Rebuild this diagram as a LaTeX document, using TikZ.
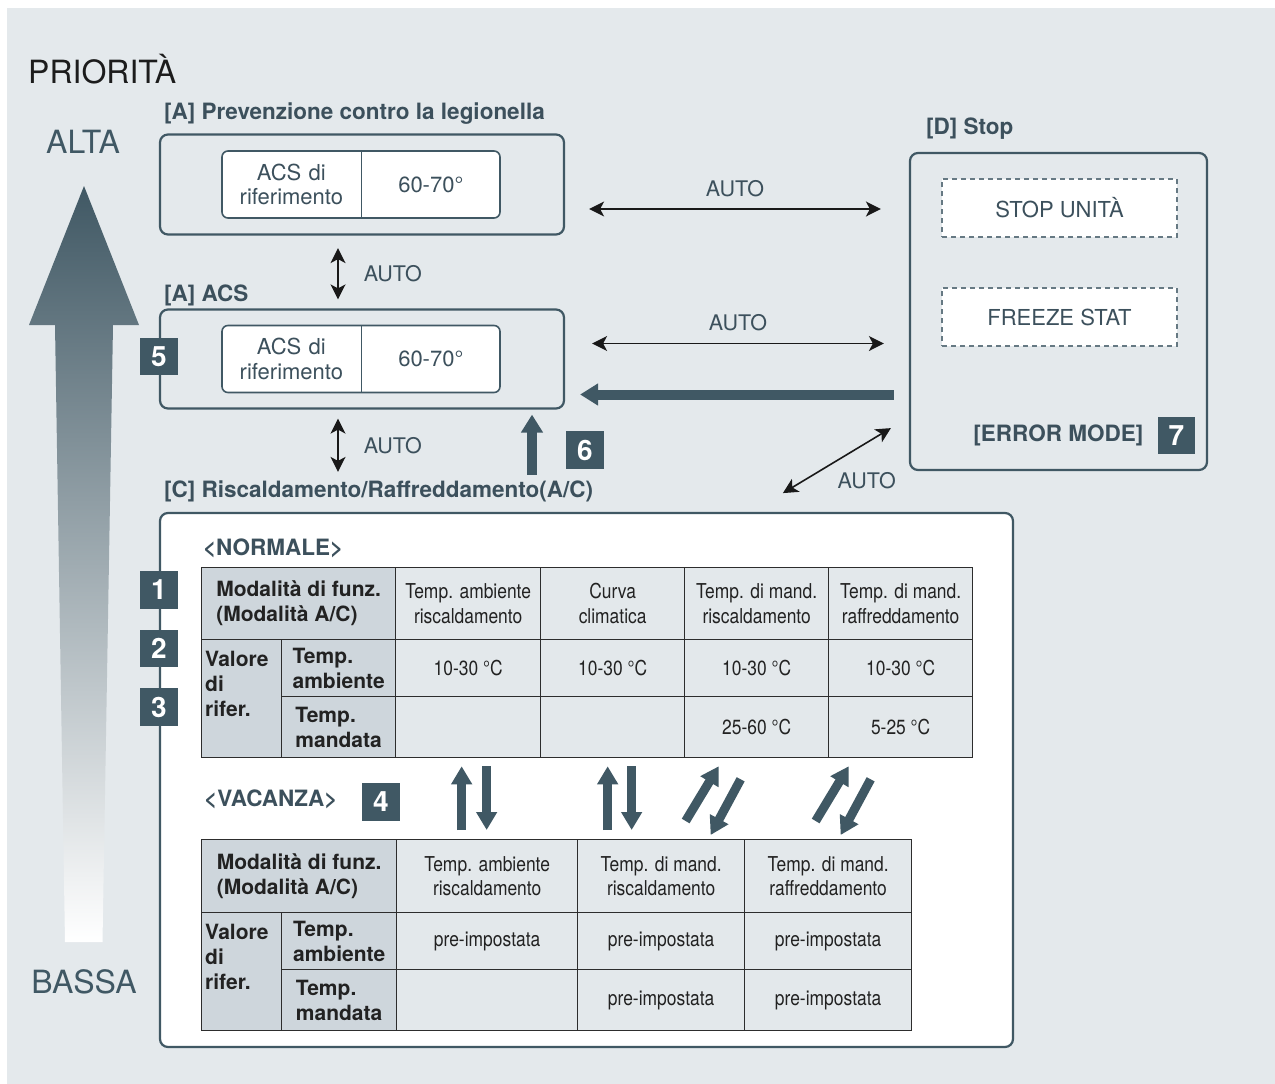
\documentclass[tikz,border=0pt]{standalone}
\usepackage{fontspec}
\setmainfont{TeX Gyre Heros}
\newfontfamily\condfont[FakeStretch=0.85]{TeX Gyre Heros}
\usepackage{tikz}
\usetikzlibrary{arrows.meta, positioning, calc}
\definecolor{bggray}{RGB}{228, 233, 236}
\definecolor{slate}{RGB}{64, 88, 100}
\definecolor{slatetext}{RGB}{60, 80, 92}
\definecolor{cellgray}{RGB}{206, 214, 220}
\definecolor{celllight}{RGB}{227, 232, 235}
\definecolor{gridline}{RGB}{45, 45, 45}
\definecolor{darktext}{RGB}{34, 34, 34}
\definecolor{titleblack}{RGB}{28, 28, 28}
\definecolor{scalemid}{RGB}{128, 146, 156}
\tikzset{
  groupbox/.style={rectangle, rounded corners=8pt, draw=slate, line width=2.2pt,
              fill=bggray},
  refbox/.style={rectangle, rounded corners=6pt, draw=slate, line width=1.6pt,
              fill=white},
  refline/.style={draw=slate, line width=1.4pt},
  reftext/.style={font=\fontsize{22}{24.5}\selectfont, text=slatetext, align=center},
  stopbox/.style={rectangle, draw=slate!80, dash pattern=on 5pt off 4pt,
              line width=1.3pt, fill=white, font=\fontsize{22}{24}\selectfont,
              text=slatetext},
  grouplbl/.style={font=\fontsize{22.5}{24}\selectfont\bfseries, text=slatetext},
  scalelbl/.style={font=\fontsize{32}{32}\selectfont, text=slate},
  autolbl/.style={font=\fontsize{21.5}{24}\selectfont, text=slatetext},
  numsq/.style={rectangle, fill=slate, text=white,
              font=\fontsize{28}{28}\selectfont\bfseries,
              minimum width=37.5, minimum height=37.5},
  tcell/.style={rectangle, draw=gridline, line width=1.3pt, fill=celllight,
              anchor=north west, align=center, text=darktext,
              font=\condfont\fontsize{20.5}{24.5}\selectfont},
  hcell/.style={tcell, fill=cellgray, align=left,
              font=\fontsize{21}{25}\selectfont\bfseries},
  hlbl/.style={align=left, text=darktext, font=\fontsize{21}{25}\selectfont\bfseries},
  autoarrow/.style={{Stealth[length=15pt, width=15pt, inset=4pt]}-{Stealth[length=15pt, width=15pt, inset=4pt]},
              line width=1.6pt, draw=black!90},
  thickarrow/.style={-{Triangle[length=18pt, width=21pt]}, line width=10pt, draw=slate},
  swaparrow/.style={-{Triangle[length=18pt, width=20pt]}, line width=9pt, draw=slate},
}

\begin{document}
\begin{tikzpicture}[x=1pt, y=-1pt, every node/.style={inner sep=0pt}]
  \useasboundingbox (0,0) rectangle (1275,1084);
  \fill[white] (0,0) rectangle (1275,1084);
  \fill[bggray] (7,8) rectangle (1275,1084);

  % priority scale
  \node[anchor=base west, font=\fontsize{32}{32}\selectfont, text=titleblack] (prio) at (28,83) {PRIORITÀ};
  \shade[top color=slate, middle color=scalemid, bottom color=white]
    (84,186) -- (139,325) -- (113,325) -- (102.5,942) -- (65,942) -- (55,325) -- (29,325) -- cycle;
  \node[scalelbl, anchor=base] (alta) at (83,153) {ALTA};
  \node[scalelbl, anchor=base] (bassa) at (84,993) {BASSA};

  % [A] legionella
  \node[groupbox, minimum width=404, minimum height=100] (legio) at (362,184.5) {};
  \node[refbox, minimum width=278, minimum height=67] (legioin) at (361,184.5) {};
  \node[reftext, text width=140, minimum height=67, anchor=west] (legioref) at (legioin.west) {ACS di\\riferimento};
  \draw[refline] (legioref.north east) -- (legioref.south east);
  \node[reftext, text width=138, anchor=west] (legioval) at (legioref.east) {60-70°};
  \node[grouplbl, anchor=base west] at ([shift={(5,-14)}]legio.north west) {[A] Prevenzione contro la legionella};

  % [A] ACS
  \node[groupbox, minimum width=404, minimum height=99] (acs) at (362,359) {};
  \node[refbox, minimum width=278, minimum height=67] (acsin) at (361,359) {};
  \node[reftext, text width=140, minimum height=67, anchor=west] (acsref) at (acsin.west) {ACS di\\riferimento};
  \draw[refline] (acsref.north east) -- (acsref.south east);
  \node[reftext, text width=138, anchor=west] (acsval) at (acsref.east) {60-70°};
  \node[grouplbl, anchor=base west] at ([shift={(5,-7)}]acs.north west) {[A] ACS};
  \node[numsq] (sq5) at (158.8,356.5) {5};

  % [D] Stop
  \node[groupbox, minimum width=297, minimum height=317] (stop) at (1058.5,311.5) {};
  \node[grouplbl, anchor=base west] at ([shift={(17,-17)}]stop.north west) {[D] Stop};
  \node[stopbox, minimum width=235, minimum height=58] (stopu) at (1059.5,208) {STOP UNITÀ};
  \node[stopbox, minimum width=235, minimum height=58] (freeze) at (1059.5,317) {FREEZE STAT};
  \node[numsq] (sq7) at (1176.5,435.5) {7};
  \node[grouplbl, anchor=east] (errmode) at ([xshift=-14]sq7.west) {[ERROR MODE]};

  % [C] heating / cooling
  \node[groupbox, fill=white, minimum width=853, minimum height=534] (heat) at (586.5,780) {};
  \node[grouplbl, anchor=base west] at ([shift={(5,-14)}]heat.north west) {[C] Riscaldamento/Raffreddamento(A/C)};
  \node[grouplbl, anchor=base west] (normale) at ([shift={(44,43.5)}]heat.north west) {<NORMALE>};

  \node[hcell, minimum width=194, minimum height=72] (t1mode) at (201,567) {Modalità di funz.\\(Modalità A/C)};
  \node[hcell, minimum width=80, minimum height=118] (t1val) at (201,639) {};
  \node[hlbl, anchor=north west] at ([shift={(4,12)}]t1val.north west) {Valore\\di\\rifer.};
  \node[hcell, minimum width=114, minimum height=57] (t1amb) at (281,639) {Temp.\\ambiente};
  \node[hcell, minimum width=114, minimum height=61] (t1man) at (281,696) {Temp.\\mandata};
  \foreach \i/\x/\w/\hd/\va/\vm in {1/395/145/{Temp. ambiente\\riscaldamento}/{10-30 °C}/{},
      2/540/144/{Curva\\climatica}/{10-30 °C}/{},
      3/684/144/{Temp. di mand.\\riscaldamento}/{10-30 °C}/{25-60 °C},
      4/828/144/{Temp. di mand.\\raffreddamento}/{10-30 °C}/{5-25 °C}}{
    \node[tcell, minimum width=\w, minimum height=72] (t1h\i) at (\x,567) {\hd};
    \node[tcell, minimum width=\w, minimum height=57] (t1a\i) at (\x,639) {\va};
    \node[tcell, minimum width=\w, minimum height=61] (t1m\i) at (\x,696) {\vm};
  }
  \node[numsq] (sq1) at (158.8,590) {1};
  \node[numsq] (sq2) at (158.8,648.5) {2};
  \node[numsq] (sq3) at (158.8,707) {3};

  \node[hcell, minimum width=195, minimum height=73] (t2mode) at (201,839) {Modalità di funz.\\(Modalità A/C)};
  \node[hcell, minimum width=80, minimum height=118] (t2val) at (201,912) {};
  \node[hlbl, anchor=north west] at ([shift={(4,12)}]t2val.north west) {Valore\\di\\rifer.};
  \node[hcell, minimum width=115, minimum height=57] (t2amb) at (281,912) {Temp.\\ambiente};
  \node[hcell, minimum width=115, minimum height=61] (t2man) at (281,969) {Temp.\\mandata};
  \foreach \i/\x/\w/\hd/\vm in {1/396/181/{Temp. ambiente\\riscaldamento}/{},
      2/577/167/{Temp. di mand.\\riscaldamento}/{pre-impostata},
      3/744/167/{Temp. di mand.\\raffreddamento}/{pre-impostata}}{
    \node[tcell, minimum width=\w, minimum height=73] (t2h\i) at (\x,839) {\hd};
    \node[tcell, minimum width=\w, minimum height=57] (t2a\i) at (\x,912) {pre-impostata};
    \node[tcell, minimum width=\w, minimum height=61] (t2m\i) at (\x,969) {\vm};
  }
  \node[grouplbl, anchor=base west] (vacanza) at ([shift={(3,-33)}]t2mode.north west) {<VACANZA>};
  \node[numsq] (sq4) at (381,802) {4};

  % switching between the two tables
  \draw[swaparrow] ([shift={(-25.5,-9)}]t2h1.north) -- ([shift={(-6.5,8)}]t1m1.south);
  \draw[swaparrow] ([shift={(18.5,8)}]t1m1.south) -- ([shift={(-0.5,-9)}]t2h1.north);
  \draw[swaparrow] ([shift={(-53.5,-9)}]t2h2.north) -- ([shift={(-5,8)}]t1m2.south);
  \draw[swaparrow] ([shift={(19,8)}]t1m2.south) -- ([shift={(-29.5,-9)}]t2h2.north);
  \draw[swaparrow] ([shift={(24.5,-18)}]t2h2.north) -- ([shift={(-38,8)}]t1m3.south);
  \draw[swaparrow] ([shift={(-16,21)}]t1m3.south) -- ([shift={(49.5,-4)}]t2h2.north);
  \draw[swaparrow] ([shift={(-12.5,-18)}]t2h3.north) -- ([shift={(-52,8)}]t1m4.south);
  \draw[swaparrow] ([shift={(-30,21)}]t1m4.south) -- ([shift={(12.5,-4)}]t2h3.north);

  % AUTO transitions
  \draw[autoarrow] ([shift={(-24,12.5)}]legio.south) -- ([shift={(-24,-9)}]acs.north)
    node[autolbl, midway, anchor=west, xshift=25] {AUTO};
  \draw[autoarrow] ([shift={(-24,9)}]acs.south) coordinate (av2) -- ([yshift=40]av2 |- heat.north)
    node[autolbl, midway, anchor=west, xshift=25] {AUTO};
  \draw[autoarrow] ([shift={(24,24.5)}]legio.east) coordinate (au1) -- ([xshift=-28]au1 -| stop.west)
    node[autolbl, midway, anchor=south, yshift=11] {AUTO};
  \draw[autoarrow] ([shift={(27,-15.5)}]acs.east) coordinate (au2) -- ([xshift=-25]au2 -| stop.west)
    node[autolbl, midway, anchor=south, yshift=12] {AUTO};
  \draw[autoarrow] ([shift={(-126,22)}]stop.south west) -- ([shift={(-18,-43)}]stop.south west)
    node[autolbl, midway, anchor=north west, yshift=-11] {AUTO};

  % forced transitions
  \draw[thickarrow] ([shift={(15,35.5)}]acs.east) coordinate (th1)
    ([xshift=-15]th1 -| stop.west) -- (th1);
  \draw[thickarrow] ([shift={(170,65)}]acs.south) -- ([shift={(170,5)}]acs.south);
  \node[numsq] (sq6) at (585,450) {6};
\end{tikzpicture}
\end{document}
